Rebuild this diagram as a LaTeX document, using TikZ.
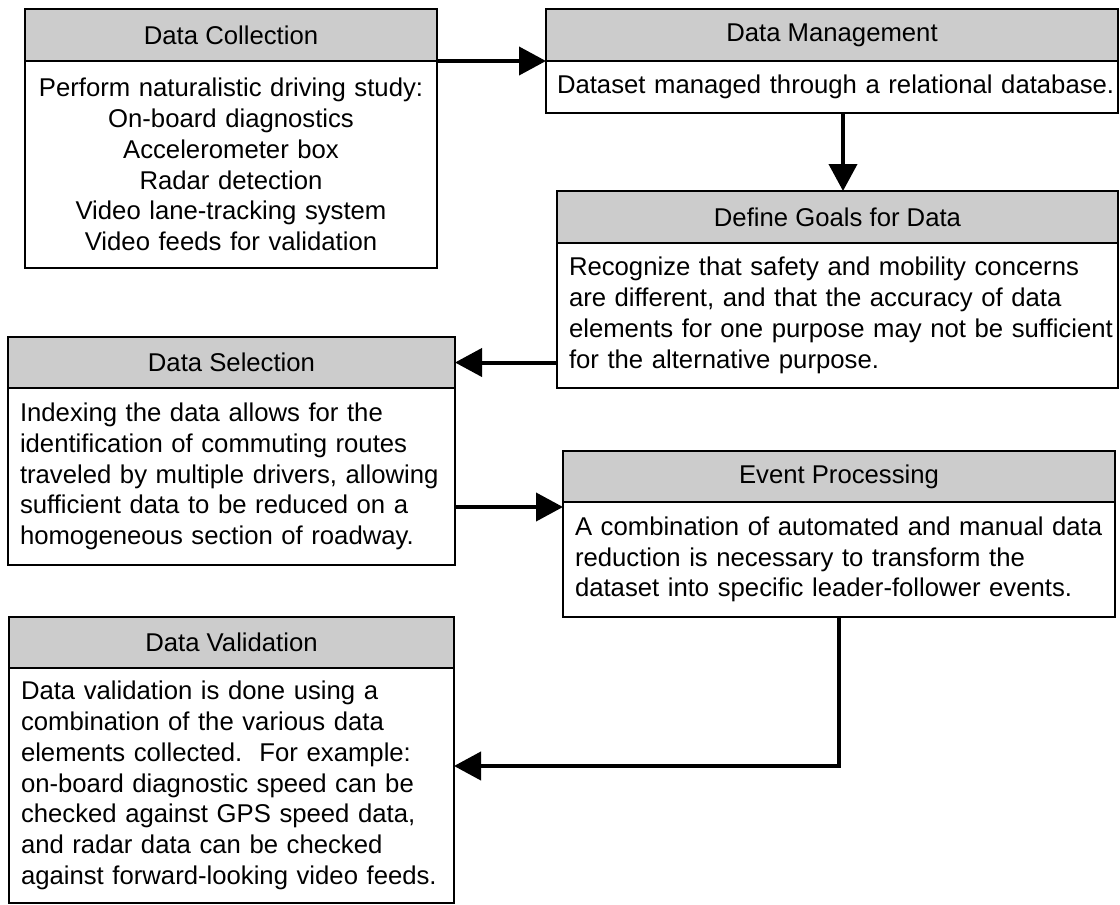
\documentclass[tikz,border=0pt]{standalone}
\usepackage{fontspec}
\setmainfont{Liberation Sans}
\usetikzlibrary{arrows.meta}
\definecolor{hgray}{RGB}{204,204,204}
\newcommand{\bxl}[1]{\mbox{#1}}
\begin{document}
\begin{tikzpicture}[x=1pt,y=1pt,
  every node/.style={font=\fontsize{25.7}{30.8}\selectfont, outer sep=0pt},
  hdr/.style={draw, fill=hgray, line width=2.6pt, anchor=north west, inner sep=0pt, minimum height=52pt},
  bdy/.style={draw, fill=white, line width=2.6pt, anchor=north west, inner xsep=12pt, inner ysep=0pt, align=left},
  bdyc/.style={bdy, align=center},
  conn/.style={line width=4pt, -{Triangle[length=27pt,width=28pt]}}]
\useasboundingbox[fill=white] (0,0) rectangle (1120,-905);

% Data Collection
\node[hdr, minimum width=412pt] (h1) at (25,-9) {Data Collection};
\node[bdyc, text width=388pt, minimum height=207pt] (b1) at (25,-61)
  {\bxl{Perform naturalistic driving study:}\\On-board diagnostics\\Accelerometer box\\Radar detection\\Video lane-tracking system\\Video feeds for validation};

% Data Management
\node[hdr, minimum width=572pt] (h2) at (546,-9) {Data Management};
\node[bdy, inner xsep=11pt, text width=550pt, minimum height=52pt] (b2) at (546,-61)
  {\bxl{Dataset managed through a relational database.}};

% Define Goals for Data
\node[hdr, minimum width=561pt] (h3) at (557,-191) {Define Goals for Data};
\node[bdy, text width=537pt, minimum height=145pt] (b3) at (557,-243)
  {\bxl{Recognize that safety and mobility concerns}\\\bxl{are different, and that the accuracy of data}\\\bxl{elements for one purpose may not be sufficient}\\\bxl{for the alternative purpose.}};

% Data Selection
\node[hdr, minimum width=447pt, minimum height=51pt] (h4) at (8,-337) {Data Selection};
\node[bdy, text width=423pt, minimum height=177pt] (b4) at (8,-388)
  {\bxl{Indexing the data allows for the}\\\bxl{identification of commuting routes}\\\bxl{traveled by multiple drivers, allowing}\\\bxl{sufficient data to be reduced on a}\\\bxl{homogeneous section of roadway.}};

% Event Processing
\node[hdr, minimum width=552pt, minimum height=51pt] (h5) at (563,-451) {Event Processing};
\node[bdy, text width=528pt, minimum height=115pt] (b5) at (563,-502)
  {\bxl{A combination of automated and manual data}\\\bxl{reduction is necessary to transform the}\\\bxl{dataset into specific leader-follower events.}};

% Data Validation
\node[hdr, minimum width=445pt, minimum height=51pt] (h6) at (9,-617) {Data Validation};
\node[bdy, text width=421pt, minimum height=235pt] (b6) at (9,-668)
  {\bxl{Data validation is done using a}\\\bxl{combination of the various data}\\\bxl{elements collected.~~For example:}\\\bxl{on-board diagnostic speed can be}\\\bxl{checked against GPS speed data,}\\\bxl{and radar data can be checked}\\\bxl{against forward-looking video feeds.}};

% connectors
\draw[conn] (b1.north east) -- (b2.north west);
\draw[conn] ([xshift=297pt]b2.south west) -- ([xshift=286pt]h3.north west);
\draw[conn] (b3.west |- h4.east) -- (h4.east);
\coordinate (e5) at ([yshift=-5pt]b5.north west);
\draw[conn] (b4.east |- e5) -- (e5);
\draw[conn] (b5.south) |- ([yshift=19.5pt]b6.east);
\end{tikzpicture}
\end{document}
